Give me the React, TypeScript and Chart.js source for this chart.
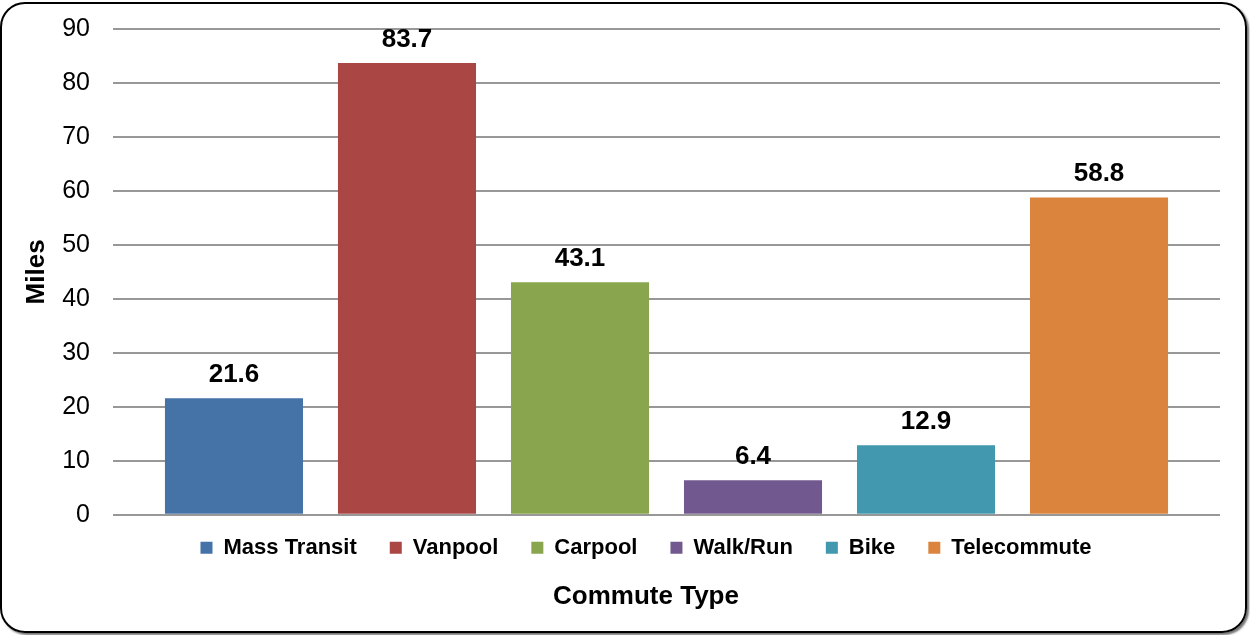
import React, { useEffect, useRef } from "react";
import { Chart, registerables } from "chart.js";

Chart.register(...registerables);

const seriesNames = ["Mass Transit", "Vanpool", "Carpool", "Walk/Run", "Bike", "Telecommute"];
const seriesValues = [21.6, 83.7, 43.1, 6.4, 12.9, 58.8];
const seriesColors = ["#4572A7", "#AA4643", "#89A54E", "#71588F", "#4198AF", "#DB843D"];
const categories = [""];
const yAxisTitle = "Miles";
const xAxisTitle = "Commute Type";
const yMin = 0;
const yMax = 90;
const yStep = 10;

const FONT = "'Liberation Sans', Arial, Helvetica, sans-serif";

const valueLabelPlugin = {
  id: "valueLabels",
  afterDatasetsDraw(chart: any) {
    const ctx = chart.ctx;
    ctx.save();
    ctx.font = `bold 26px ${FONT}`;
    ctx.fillStyle = "#000";
    ctx.textAlign = "center";
    ctx.textBaseline = "alphabetic";
    chart.data.datasets.forEach((ds: any, i: number) => {
      const meta = chart.getDatasetMeta(i);
      meta.data.forEach((bar: any, j: number) => {
        const v = ds.data[j];
        if (v == null) return;
        ctx.fillText(Number(v).toFixed(1), bar.x, bar.y - 16);
      });
    });
    ctx.restore();
  },
};

export default function App() {
  const canvasRef = useRef<HTMLCanvasElement | null>(null);

  useEffect(() => {
    if (!canvasRef.current) return;
    const chart = new Chart(canvasRef.current, {
      type: "bar",
      data: {
        labels: categories,
        datasets: seriesNames.map((name, i) => ({
          label: name,
          data: [seriesValues[i]],
          backgroundColor: seriesColors[i],
          borderWidth: 0,
          categoryPercentage: 0.9377,
          barPercentage: 0.798,
        })),
      },
      options: {
        animation: false,
        responsive: true,
        maintainAspectRatio: false,
        events: [],
        layout: { padding: { left: 55, right: 13, top: 29, bottom: 23 } },
        scales: {
          x: { display: false },
          y: {
            min: yMin,
            max: yMax,
            afterFit: (scale: any) => {
              scale.width = 58;
              scale.paddingTop = 0;
              scale.paddingBottom = 0;
            },
            ticks: {
              stepSize: yStep,
              color: "#000",
              padding: 23,
              font: { family: FONT, size: 25 },
            },
            grid: { color: "#989898", lineWidth: 2, drawTicks: false },
            border: { display: false },
            title: {
              display: true,
              text: yAxisTitle,
              color: "#000",
              font: { family: FONT, size: 26, weight: "bold" },
              padding: { top: -33.6, bottom: 0 },
            },
          },
          yRight: {
            type: "linear",
            position: "right",
            display: true,
            afterFit: (scale: any) => {
              scale.width = 17;
              scale.paddingTop = 0;
              scale.paddingBottom = 0;
            },
            ticks: { display: false },
            grid: { display: false, drawTicks: false },
            border: { display: false },
          },
        },
        plugins: {
          tooltip: { enabled: false },
          legend: {
            position: "bottom",
            fullSize: true,
            title: {
              display: true,
              text: "",
              font: { size: 1, lineHeight: 1 },
              padding: { top: -12, bottom: 0 },
            },
            labels: {
              color: "#000",
              boxWidth: 12,
              boxHeight: 12,
              padding: 33,
              font: { family: FONT, size: 22, weight: "bold" },
            },
          },
          title: {
            display: true,
            position: "bottom",
            text: xAxisTitle,
            color: "#000",
            font: { family: FONT, size: 26, weight: "bold" },
            padding: { top: 12, bottom: 0 },
          },
        },
      },
      plugins: [valueLabelPlugin],
    });
    return () => chart.destroy();
  }, []);

  return (
    <div style={{ position: "relative", width: 1250, height: 635, background: "#fff" }}>
      <style>{"body{margin:0;}"}</style>
      <div
        style={{
          position: "absolute",
          left: 0,
          top: 2,
          width: 1247,
          height: 631,
          boxSizing: "border-box",
          border: "2px solid #000",
          borderRadius: 25,
          boxShadow: "2px 2px 2px rgba(0,0,0,0.55)",
        }}
      />
      <div style={{ position: "absolute", left: 0, top: 0, width: 1250, height: 635 }}>
        <canvas ref={canvasRef} />
      </div>
    </div>
  );
}
